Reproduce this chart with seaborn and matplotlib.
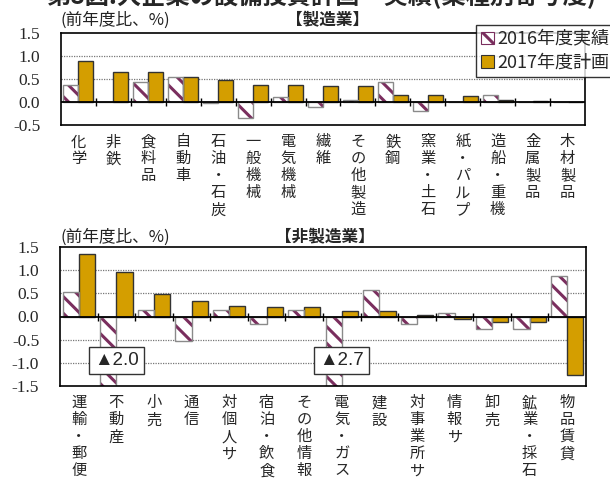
import numpy as np
import pandas as pd
import matplotlib
matplotlib.use("Agg")
import matplotlib.pyplot as plt
from matplotlib.patches import Patch, Rectangle
import seaborn as sns

# ---------------- data ----------------
years = ["2016年度実績", "2017年度計画"]

mfg_cats = ["化学", "非鉄", "食料品", "自動車", "石油・石炭", "一般機械", "電気機械", "繊維",
            "その他製造", "鉄鋼", "窯業・土石", "紙・パルプ", "造船・重機", "金属製品", "木材製品"]
mfg_2016 = [0.38, 0.01, 0.43, 0.54, -0.02, -0.35, 0.10, -0.10, 0.05, 0.44, -0.19, 0.01, 0.15, 0.01, 0.00]
mfg_2017 = [0.90, 0.65, 0.65, 0.55, 0.48, 0.36, 0.36, 0.35, 0.34, 0.15, 0.15, 0.14, 0.04, 0.02, 0.01]

non_cats = ["運輸・郵便", "不動産", "小売", "通信", "対個人サ", "宿泊・飲食", "その他情報",
            "電気・ガス", "建設", "対事業所サ", "情報サ", "卸売", "鉱業・採石", "物品賃貸"]
non_2016 = [0.53, -2.0, 0.13, -0.53, 0.14, -0.17, 0.13, -2.7, 0.58, -0.16, 0.08, -0.26, -0.28, 0.87]
non_2017 = [1.35, 0.97, 0.49, 0.33, 0.23, 0.20, 0.20, 0.12, 0.11, 0.04, -0.06, -0.12, -0.12, -1.27]

mfg_yticks = [-0.5, 0.0, 0.5, 1.0, 1.5]
non_yticks = [-1.5, -1.0, -0.5, 0.0, 0.5, 1.0, 1.5]

title = "第8図:大企業の設備投資計画・実績(業種別寄与度)"
unit_label = "(前年度比、%)"
panel_titles = ["【製造業】", "【非製造業】"]

# ---------------- style ----------------
sns.set_theme(style="white")
plt.rcParams["font.family"] = ["Noto Sans CJK JP", "DejaVu Sans"]
plt.rcParams["hatch.linewidth"] = 2.2

GOLD = "#D49E00"
MAROON = "#7A2E5E"
HATCH = "\\\\"

fig = plt.figure(figsize=(6.10, 4.82), dpi=100)
W, H = 610, 482


def ax_rect(l, t, r, b):
    return [l / W, 1 - b / H, (r - l) / W, (b - t) / H]


ax1 = fig.add_axes(ax_rect(61, 33, 585, 125))
ax2 = fig.add_axes(ax_rect(60, 247, 586, 386))


def draw_panel(ax, cats, v16, v17, yticks, label_pad):
    df = pd.DataFrame({
        "cat": cats * 2,
        "val": list(v16) + list(v17),
        "year": [years[0]] * len(cats) + [years[1]] * len(cats),
    })
    sns.barplot(data=df, x="cat", y="val", hue="year", order=cats, hue_order=years,
                palette=["white", GOLD], saturation=1, width=0.86, errorbar=None,
                legend=False, ax=ax, edgecolor="#333333", linewidth=1.0)
    ymin, ymax = yticks[0], yticks[-1]
    ax.set_ylim(ymin, ymax)
    ax.set_xlim(-0.5, len(cats) - 0.5)
    # hatched 2016 bars
    for p in ax.containers[0]:
        p.set_facecolor("white")
        p.set_edgecolor(MAROON)
        p.set_hatch(HATCH)
        p.set_linewidth(0)
        ax.add_patch(Rectangle(p.get_xy(), p.get_width(), p.get_height(), fill=False,
                               edgecolor="#8a8a8a", linewidth=1.0, zorder=p.get_zorder() + 0.1))
    # gridlines
    for y in yticks:
        if y not in (ymin, ymax, 0.0):
            ax.axhline(y, color="#777777", linestyle=(0, (1, 1)), linewidth=0.9, zorder=0)
    ax.axhline(0, color="black", linewidth=1.3, zorder=3)
    # boundary ticks on zero line
    d = (ymax - ymin) * 4.0 / (ax.get_position().height * H)
    bounds = np.arange(len(cats) - 1) + 0.5
    ax.vlines(bounds, -d, d, color="black", linewidth=1.0, zorder=3)
    # spines
    for s in ax.spines.values():
        s.set_visible(True)
        s.set_color("black")
        s.set_linewidth(1.2)
    ax.set_yticks(yticks)
    ax.set_yticklabels([f"{t:.1f}" for t in yticks], fontfamily="Liberation Serif", fontsize=12.5)
    ax.tick_params(axis="y", length=0, pad=15)
    ax.tick_params(axis="x", length=0, pad=label_pad)
    ax.set_xticks(range(len(cats)))
    ax.set_xticklabels(["\n".join(c) for c in cats], fontsize=11, linespacing=1.0,
                       va="top", ha="center")
    ax.set_xlabel("")
    ax.set_ylabel("")
    # annotations for off-scale bars
    for i, v in enumerate(v16):
        if v < ymin:
            ax.text(i, -0.95, f"▲{abs(v):.1f}", ha="center", va="center", fontsize=13.5,
                    family=["Liberation Sans", "DejaVu Sans"], zorder=6,
                    bbox=dict(boxstyle="square,pad=0.28", fc="white", ec="#333333", lw=1.0))


draw_panel(ax1, mfg_cats, mfg_2016, mfg_2017, mfg_yticks, 6)
draw_panel(ax2, non_cats, non_2016, non_2017, non_yticks, 6)

# unit labels and panel titles
fig.text(60 / W, 1 - 20 / H, unit_label, fontsize=12, ha="left", va="center", color="#222222")
fig.text(60 / W, 1 - 237 / H, unit_label, fontsize=12, ha="left", va="center", color="#222222")
fig.text(328 / W, 1 - 20 / H, panel_titles[0], fontsize=12, fontweight="bold", ha="center", va="center")
fig.text(325 / W, 1 - 237 / H, panel_titles[1], fontsize=12, fontweight="bold", ha="center", va="center")

# clipped title at top
fig.text(322 / W, 1.008, title, fontsize=17.5, fontweight="bold", ha="center", va="center")

# legend
handles = [Patch(facecolor="white", edgecolor=MAROON, hatch=HATCH, linewidth=0.8),
           Patch(facecolor=GOLD, edgecolor="#333333", linewidth=0.8)]
leg = fig.legend(handles, years, loc="upper left", bbox_to_anchor=(476 / W, 1 - 25 / H),
                 frameon=True, fancybox=False, fontsize=13, handlelength=0.7, handleheight=0.7,
                 handletextpad=0.2, borderpad=0.3, labelspacing=0.3, borderaxespad=0)
leg.get_frame().set_edgecolor("black")
leg.get_frame().set_linewidth(1.0)
leg.set_zorder(10)

fig.savefig("out.png", dpi=100)
